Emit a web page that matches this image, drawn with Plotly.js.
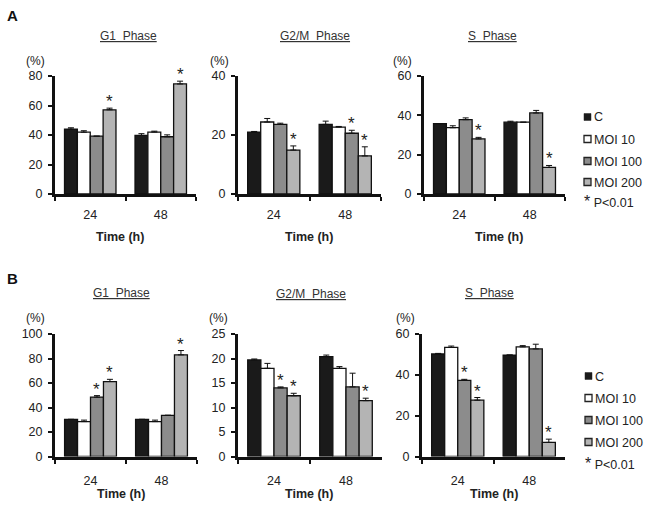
<!DOCTYPE html>
<html>
<head>
<meta charset="utf-8">
<script src="https://cdn.plot.ly/plotly-3.0.1.min.js"></script>
<style>html,body{margin:0;padding:0;background:#fff;}#chart{width:649px;height:510px;}</style>
</head>
<body>
<div id="chart"></div>
<script>
// ---------- data ----------
const times = ['24', '48'];
const seriesNames = ['C', 'MOI 10', 'MOI 100', 'MOI 200'];
const seriesColors = ['#1a1a1a', '#ffffff', '#8c8c8c', '#b4b4b4'];
const phaseTitles = ['G1\u00a0 Phase', 'G2/M\u00a0 Phase', 'S\u00a0 Phase'];

// Panel A (values per series: [24h, 48h])
const aG1Values = [[44.0, 39.7], [41.9, 42.0], [39.2, 38.8], [57.1, 74.6]];
const aG1Errors = [[0.9, 1.2], [1.0, 0.6], [0.0, 1.3], [1.1, 1.9]];
const aG1Sig    = [[0, 0], [0, 0], [0, 0], [1, 1]];

const aG2MValues = [[21.0, 23.6], [24.4, 22.7], [23.6, 20.6], [14.9, 12.9]];
const aG2MErrors = [[0.2, 1.1], [1.2, 0.2], [0.4, 1.0], [1.4, 3.1]];
const aG2MSig    = [[0, 0], [0, 0], [0, 1], [1, 1]];

const aSValues = [[35.8, 36.5], [33.7, 36.5], [37.8, 41.2], [28.0, 13.5]];
const aSErrors = [[0.0, 0.5], [1.0, 0.0], [0.9, 1.3], [0.8, 1.0]];
const aSSig    = [[0, 0], [0, 0], [0, 0], [1, 1]];

// Panel B
const bG1Values = [[30.3, 30.3], [28.5, 28.5], [48.5, 33.6], [61.2, 83.0]];
const bG1Errors = [[0.0, 0.0], [1.2, 1.2], [1.2, 0.0], [1.8, 3.5]];
const bG1Sig    = [[0, 0], [0, 0], [1, 0], [1, 1]];

const bG2MValues = [[19.7, 20.4], [18.0, 18.0], [14.0, 14.2], [12.4, 11.4]];
const bG2MErrors = [[0.2, 0.3], [1.0, 0.35], [0.2, 2.8], [0.5, 0.5]];
const bG2MSig    = [[0, 0], [0, 0], [1, 0], [1, 1]];

const bSValues = [[50.2, 49.7], [53.4, 53.7], [37.3, 52.7], [27.6, 6.9]];
const bSErrors = [[0.3, 0.0], [0.7, 0.6], [0.5, 2.3], [1.3, 1.6]];
const bSSig    = [[0, 0], [0, 0], [1, 0], [1, 1]];

const legendSigLabel = 'P&lt;0.01';
const yUnit = '(%)';
const xTitle = 'Time (h)';

// ---------- layout helpers ----------
const W = 649, H = 510;
const px = x => x / W;
const py = y => 1 - y / H;
const BARGAP = 0.27;
const FONT = 'Liberation Sans, Arial, Helvetica, sans-serif';

const panels = [
  {v: aG1Values, e: aG1Errors, s: aG1Sig, range: [0, 80], dtick: 20, x0: 55, x1: 196, top: 76, bot: 194, so: 7, title: phaseTitles[0], tx: 128, ty: 36, ux: 35, uy: 61, lx: 120, ly: 237},
  {v: aG2MValues, e: aG2MErrors, s: aG2MSig, range: [0, 40], dtick: 20, x0: 238, x1: 381, top: 76, bot: 194, so: 7, title: phaseTitles[1], tx: 315, ty: 36, ux: 219, uy: 61, lx: 309, ly: 237},
  {v: aSValues, e: aSErrors, s: aSSig, range: [0, 60], dtick: 20, x0: 424, x1: 565, top: 76, bot: 194, so: 7, title: phaseTitles[2], tx: 492, ty: 36, ux: 402, uy: 61, lx: 499, ly: 237},
  {v: bG1Values, e: bG1Errors, s: bG1Sig, range: [0, 100], dtick: 20, x0: 55, x1: 197, top: 334, bot: 456.5, so: 10, title: phaseTitles[0], tx: 121, ty: 293, ux: 35, uy: 318, lx: 121, ly: 494},
  {v: bG2MValues, e: bG2MErrors, s: bG2MSig, range: [0, 25], dtick: 5, x0: 238, x1: 382, top: 334, bot: 456.5, so: 10, title: phaseTitles[1], tx: 311, ty: 294, ux: 218, uy: 318, lx: 309, ly: 494},
  {v: bSValues, e: bSErrors, s: bSSig, range: [0, 60], dtick: 20, x0: 422, x1: 565, top: 334, bot: 456.5, so: 10, title: phaseTitles[2], tx: 489, ty: 293, ux: 405, uy: 318, lx: 494, ly: 494}
];

const data = [];
const layout = {
  width: W, height: H,
  margin: {l: 0, r: 0, t: 0, b: 0, pad: 0},
  paper_bgcolor: '#fff', plot_bgcolor: '#fff',
  showlegend: false,
  barmode: 'group', bargap: BARGAP, bargroupgap: 0,
  font: {family: FONT, color: '#222', size: 12},
  annotations: [], shapes: []
};

panels.forEach((p, i) => {
  const n = i + 1;
  const xa = 'x' + (n === 1 ? '' : n), ya = 'y' + (n === 1 ? '' : n);
  const xk = 'xaxis' + (n === 1 ? '' : n), yk = 'yaxis' + (n === 1 ? '' : n);
  seriesNames.forEach((name, k) => {
    data.push({
      type: 'bar', x: times, y: p.v[k], name: name,
      xaxis: xa, yaxis: ya,
      marker: {color: seriesColors[k], line: {color: '#111', width: 1.3}},
      error_y: {type: 'data', array: p.e[k], arrayminus: p.e[k].map(() => 0), symmetric: false,
                color: '#111', thickness: 1, width: 3},
      hoverinfo: 'skip'
    });
  });
  layout[xk] = {
    type: 'category', domain: [px(p.x0), px(p.x1)], anchor: ya,
    range: [-0.5, 1.5], showline: true, linewidth: 3, linecolor: '#111',
    ticks: 'outside', tickson: 'boundaries', ticklen: 4, tickwidth: 2, tickcolor: '#111',
    tickfont: {family: FONT, size: 12.5, color: '#222'}, ticklabelstandoff: p.so,
    showgrid: false, zeroline: false, fixedrange: true
  };
  layout[yk] = {
    domain: [py(p.bot), py(p.top)], anchor: xa,
    range: p.range, tick0: 0, dtick: p.dtick,
    showline: true, linewidth: 3, linecolor: '#111',
    ticks: 'outside', ticklen: 4, tickwidth: 2, tickcolor: '#111',
    tickfont: {family: FONT, size: 12.5, color: '#222'}, ticklabelstandoff: 3,
    showgrid: false, zeroline: false, fixedrange: true
  };
  // significance stars
  const bw = (p.x1 - p.x0) / 2 * (1 - BARGAP) / 4;
  p.s.forEach((row, k) => row.forEach((flag, t) => {
    if (!flag) return;
    layout.annotations.push({
      xref: xa, yref: ya, x: t, y: p.v[k][t] + p.e[k][t],
      xshift: (k - 1.5) * bw, yanchor: 'bottom', yshift: -5,
      text: '*', showarrow: false, font: {family: FONT, size: 17, color: '#222'}
    });
  }));
  // titles, unit, x title
  layout.annotations.push({xref: 'paper', yref: 'paper', x: px(p.tx), y: py(p.ty), text: '<u>' + p.title + '</u>',
    showarrow: false, xanchor: 'center', yanchor: 'middle', font: {family: FONT, size: 12, color: '#333'}});
  layout.annotations.push({xref: 'paper', yref: 'paper', x: px(p.ux), y: py(p.uy), text: yUnit,
    showarrow: false, xanchor: 'center', yanchor: 'middle', font: {family: FONT, size: 12, color: '#222'}});
  layout.annotations.push({xref: 'paper', yref: 'paper', x: px(p.lx), y: py(p.ly), text: '<b>' + xTitle + '</b>',
    showarrow: false, xanchor: 'center', yanchor: 'middle', font: {family: FONT, size: 12.5, color: '#222'}});
});

// panel letters
[['A', 15], ['B', 278]].forEach(([t, y]) => {
  layout.annotations.push({xref: 'paper', yref: 'paper', x: px(12), y: py(y), text: '<b>' + t + '</b>',
    showarrow: false, xanchor: 'center', yanchor: 'middle', font: {family: FONT, size: 15, color: '#111'}});
});

// legends (one per row)
const legendRows = [
  {sx: 584, ys: [117, 139, 161, 182, 201]},
  {sx: 585, ys: [376, 398, 420, 442, 462]}
];
legendRows.forEach(L => {
  seriesNames.forEach((name, k) => {
    const yc = L.ys[k];
    layout.shapes.push({type: 'rect', xref: 'paper', yref: 'paper',
      x0: px(L.sx), x1: px(L.sx + 7), y0: py(yc + 3.5), y1: py(yc - 3.5),
      fillcolor: seriesColors[k], line: {color: '#222', width: k === 0 ? 0.5 : 1.3}});
    layout.annotations.push({xref: 'paper', yref: 'paper', x: px(L.sx + 7.5), y: py(yc + 0.5), text: name,
      showarrow: false, xanchor: 'left', yanchor: 'middle', font: {family: FONT, size: 12.5, color: '#222'}});
  });
  layout.annotations.push({xref: 'paper', yref: 'paper', x: px(L.sx - 2), y: py(L.ys[4] + 1),
    text: '<span style="font-size:16px">*</span> ' + legendSigLabel,
    showarrow: false, xanchor: 'left', yanchor: 'middle', font: {family: FONT, size: 12.5, color: '#222'}});
});

Plotly.newPlot('chart', data, layout, {staticPlot: true, displayModeBar: false});
</script>
</body>
</html>
